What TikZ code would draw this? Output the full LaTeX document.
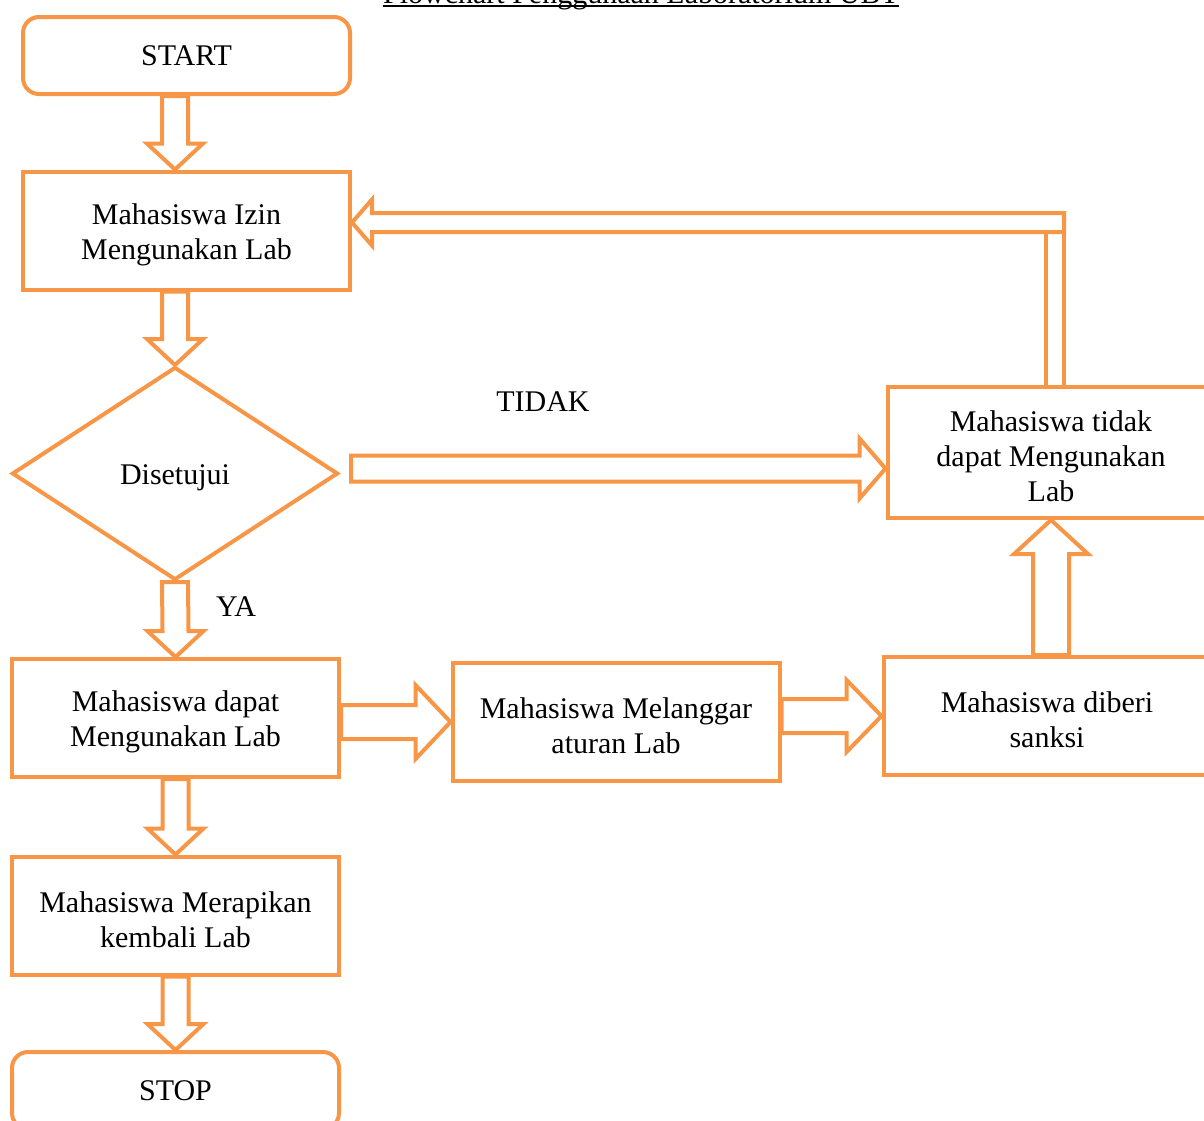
\documentclass[tikz,border=0pt]{standalone}
\usepackage{fontspec}
\setmainfont{Liberation Serif}
\usepackage{tikz}
\usetikzlibrary{calc,positioning,shapes.geometric}

\definecolor{oranye}{HTML}{F79646}

% panah blok vertikal: #3 setengah batang, #4 setengah kepala, #5 panjang kepala (negatif = ke atas)
\newcommand{\panahv}[5]{%
  \draw[panah] ($(#1)+(-#3,0)$) -- ($(#2)+(-#3,#5)$) -- ($(#2)+(-#4,#5)$) -- (#2)
    -- ($(#2)+(#4,#5)$) -- ($(#2)+(#3,#5)$) -- ($(#1)+(#3,0)$) -- cycle;}
% panah blok horizontal ke kanan
\newcommand{\panahh}[5]{%
  \draw[panah] ($(#1)+(0,#3)$) -- ($(#2)+(-#5,#3)$) -- ($(#2)+(-#5,#4)$) -- (#2)
    -- ($(#2)+(-#5,-#4)$) -- ($(#2)+(-#5,-#3)$) -- ($(#1)+(0,-#3)$) -- cycle;}

\tikzset{
  dasar/.style={draw=oranye, line width=2pt, minimum width=163.5pt, minimum height=59pt,
    align=center, inner sep=2pt, font=\fontsize{15}{17.5}\selectfont},
  kotak/.style={dasar, text height=32pt},
  terminal/.style={dasar, rounded corners=8pt, minimum height=38.5pt},
  keputusan/.style={dasar, diamond, minimum width=163pt, minimum height=106.5pt,
    text height=14pt},
  panah/.style={draw=oranye, line width=2pt},
  label/.style={font=\fontsize{15}{17.5}\selectfont, inner sep=0pt}
}

\begin{document}
\begin{tikzpicture}[x=0.5pt,y=0.5pt]
  \useasboundingbox (0,0) rectangle (1204,-1120);
  % judul (terpotong di tepi atas)
  \node[label, anchor=base] (judul) at (641,-3) {Flowchart Penggunaan Laboratorium UBT};
  \draw[line width=1pt] ($(judul.base west)+(0,-2.5)$) -- ($(judul.base east)+(0,-2.5)$);

  % kolom kiri
  \node[terminal] (start) at (186.5,-55.5) {START};
  \node[kotak] (izin) at (186.5,-230.5) {Mahasiswa Izin\\Mengunakan Lab};
  \node[keputusan] (dis) at (175,-473.5) {Disetujui};
  \node[kotak] (dapat) at (175.5,-718) {Mahasiswa dapat\\Mengunakan Lab};
  \node[kotak] (rapi) at (175.5,-915.5) {Mahasiswa Merapikan\\kembali Lab};
  \node[terminal] (stop) at (175.5,-1090.5) {STOP};

  % kolom tengah dan kanan
  \node[kotak] (langgar) at (616,-722) {Mahasiswa Melanggar\\aturan Lab};
  \node[kotak] (sanksi) at (1047,-716) {Mahasiswa diberi\\sanksi};
  \node[kotak, minimum height=65.5pt, text height=49pt] (tidak) at (1051,-452.5)
    {Mahasiswa tidak\\dapat Mengunakan\\Lab};

  \node[label] (lbltidak) at (543,-402) {TIDAK};
  \node[label] (lblya) at (236,-607) {YA};

  % panah ke bawah
  \panahv{start.south -| dis.north}{izin.north -| dis.north}{13}{28}{26}
  \panahv{izin.south -| dis.north}{dis.north}{13}{28}{26}
  \panahv{dis.south}{dapat.north}{13}{28}{26}
  \panahv{dapat.south}{rapi.north}{13}{28}{26}
  \panahv{rapi.south}{stop.north}{13}{28}{26}

  % panah ke kanan
  \coordinate (tidakujung) at ($(tidak.west)+(0,-16)$);
  \coordinate (tidakpangkal) at ($(dis.east |- tidakujung)+(11,0)$);
  \panahh{tidakpangkal}{tidakujung}{13}{30}{26}
  \panahh{dapat.east |- langgar.west}{langgar.west}{17}{37}{35}
  \panahh{langgar.east |- sanksi.west}{sanksi.west}{17}{36}{35}

  % sanksi -> tidak (ke atas)
  \panahv{tidak.south |- sanksi.north}{tidak.south}{18}{37}{-34}

  % tidak -> izin (panah siku)
  \coordinate (belok) at ($(tidak.north)+(4,0)$);
  \coordinate (ujung) at ($(izin.east)+(0,8)$);
  \draw[panah] (ujung) -- ++(20,23) -- ++(0,-13.5) -- ($(belok |- ujung)+(9,9.5)$)
    -- ++(0,-19) -- ($(ujung)+(20,-9.5)$) -- ++(0,-13.5) -- cycle;
  \draw[panah] ($(belok)+(-9,0)$) -- ($(belok |- ujung)+(-9,-9.5)$);
  \draw[panah] ($(belok)+(9,0)$) -- ($(belok |- ujung)+(9,-9.5)$);
\end{tikzpicture}
\end{document}
